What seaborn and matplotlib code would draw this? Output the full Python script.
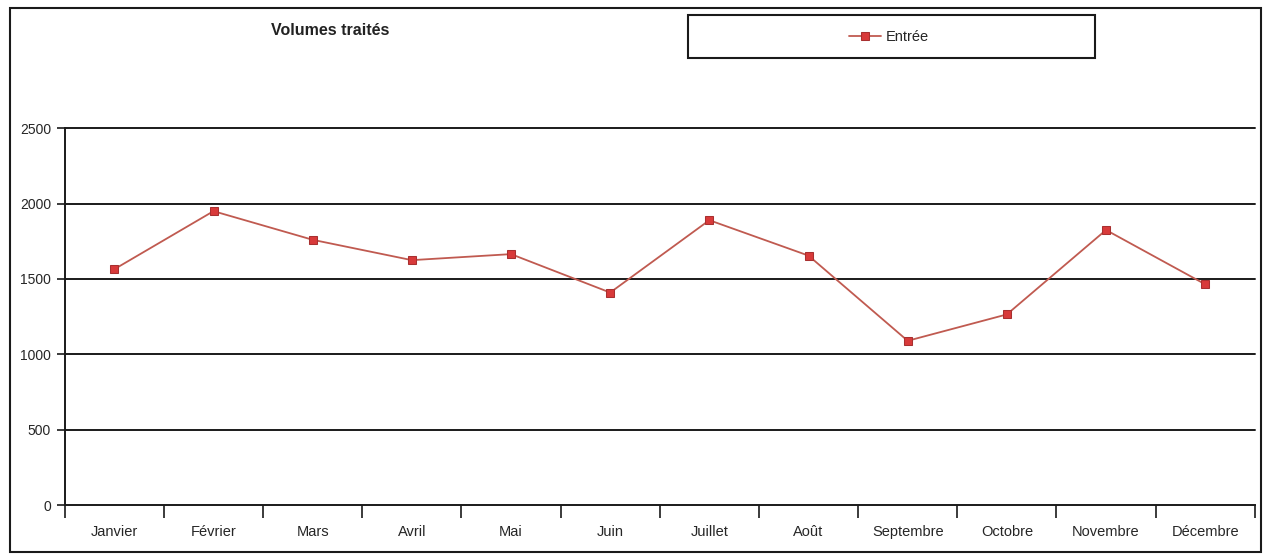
import numpy as np
import pandas as pd
import seaborn as sns
import matplotlib.pyplot as plt
from matplotlib.patches import Rectangle

# data
mois = ['Janvier', 'Février', 'Mars', 'Avril', 'Mai', 'Juin', 'Juillet',
        'Août', 'Septembre', 'Octobre', 'Novembre', 'Décembre']
entree = [1565, 1950, 1760, 1625, 1665, 1410, 1890, 1655, 1090, 1265, 1825, 1465]
y_ticks = [0, 500, 1000, 1500, 2000, 2500]

df = pd.DataFrame({'pos': np.arange(len(mois)), 'Entrée': entree})

sns.set_style('white')
plt.rcParams['font.family'] = ['Liberation Sans', 'DejaVu Sans']

fig = plt.figure(figsize=(12.7, 5.6), dpi=100)
ax = fig.add_axes([0.051, 0.098, 0.937, 0.673])

sns.lineplot(data=df, x='pos', y='Entrée', ax=ax, color='#c05a50', linewidth=1.3,
             marker='s', markersize=6, markerfacecolor='#d83a3a',
             markeredgecolor='#a83030', label='Entrée', legend=False)

ax.set_xlim(-0.5, len(mois) - 0.5)
ax.set_ylim(0, 2500)
ax.set_yticks(y_ticks)
ax.set_yticklabels([str(v) for v in y_ticks], fontsize=10)
for v in y_ticks[1:]:
    ax.axhline(v, color='#1a1a1a', linewidth=1.4, zorder=0, clip_on=False)

# category labels in the middle, tick marks on the boundaries
ax.set_xticks(np.arange(len(mois)))
ax.set_xticklabels(mois, fontsize=10.5)
ax.set_xticks(np.arange(-0.5, len(mois)), minor=True)
ax.tick_params(axis='x', which='major', bottom=True, length=0, pad=14)
ax.tick_params(axis='x', which='minor', bottom=True, length=9, width=1.2,
               color='#1a1a1a', direction='out')
ax.tick_params(axis='y', left=True, length=6, width=1.2, color='#1a1a1a',
               direction='out', pad=4)
ax.set_xlabel('')
ax.set_ylabel('')

sns.despine(ax=ax, top=True, right=True)
for side in ['left', 'bottom']:
    ax.spines[side].set_color('#1a1a1a')
    ax.spines[side].set_linewidth(1.4)

# title
fig.text(0.26, 0.945, 'Volumes traités', fontsize=11.5, fontweight='bold',
         color='#222222', ha='center', va='center')

# legend box
fig.patches.append(Rectangle((0.542, 0.896), 0.32, 0.077, transform=fig.transFigure,
                             fill=False, edgecolor='#1a1a1a', linewidth=1.5))
handles, labels = ax.get_legend_handles_labels()
fig.legend(handles, labels, loc='center', bbox_to_anchor=(0.70, 0.934),
           frameon=False, fontsize=10.5, handlelength=2.2, handletextpad=0.3)

# outer frame
fig.patches.append(Rectangle((0.008, 0.014), 0.985, 0.972, transform=fig.transFigure,
                             fill=False, edgecolor='#1a1a1a', linewidth=1.5))

fig.savefig('out.png', dpi=100)
